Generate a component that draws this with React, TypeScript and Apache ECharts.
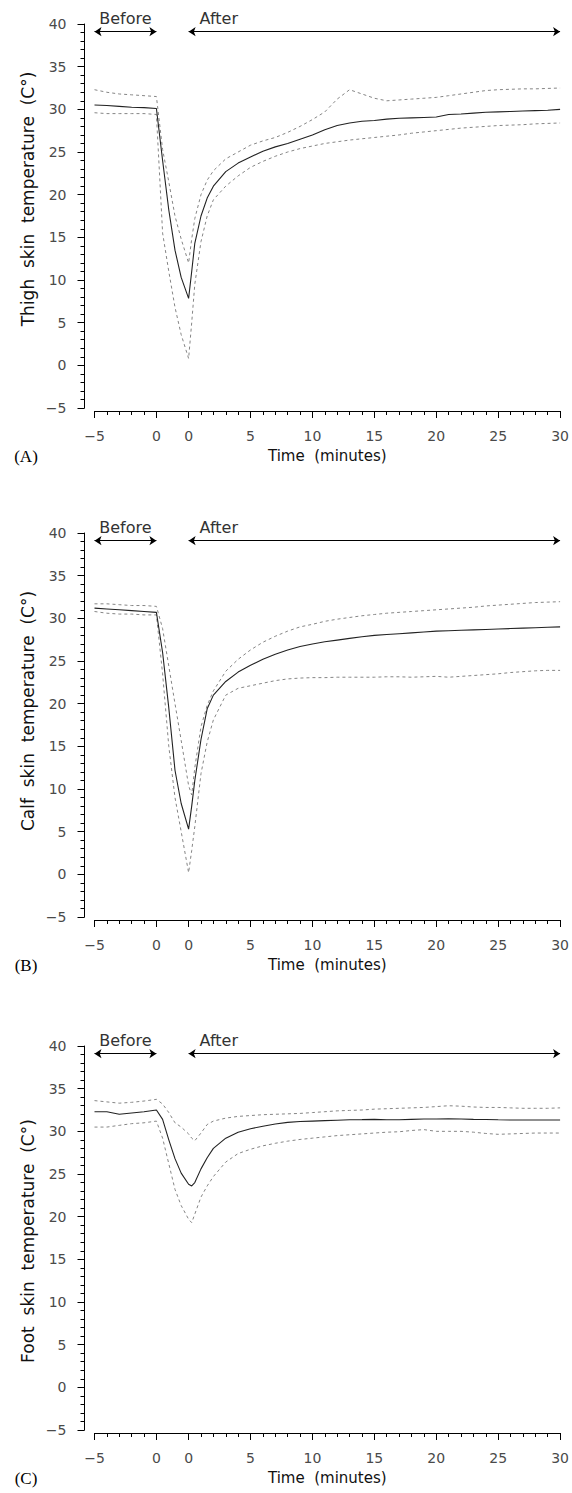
import React, { useEffect, useRef } from "react";
import * as echarts from "echarts";

// Axis width (in minutes) of the cooling interval drawn between the two zero marks
const GAP = 2.6;

// Sampling times
const BEFORE_MIN = [-5, -4, -3, -2, -1, 0];
const COOLING_POS = [0.5, 1.0, 1.5, 2.0];
const AFTER_MIN = [0, 0.25, 0.5, 1, 1.5, 2, 3, 4, 5, 6, 7, 8, 9, 10, 11, 12, 13, 14, 15, 16, 17, 18, 19, 20, 21, 22, 23, 24, 25, 26, 27, 28, 29, 30];

// Tick marks
const BEFORE_TICKS = [-5, 0];
const AFTER_TICKS = [0, 5, 10, 15, 20, 25, 30];
const BEFORE_MINOR = [-4, -3, -2, -1];
const AFTER_MINOR = [1, 2, 3, 4, 6, 7, 8, 9, 11, 12, 13, 14, 16, 17, 18, 19, 21, 22, 23, 24, 26, 27, 28, 29];
const Y_MIN = -5;
const Y_MAX = 40;
const Y_STEP = 5;
const ARROW_LEVEL = 39.1;

// Thigh (A)
const THIGH_MEAN = [
  30.5, 30.45, 30.35, 30.25, 30.2, 30.1,
  24.0, 18.2, 13.5, 10.3,
  7.85, 11.0, 14.3, 17.5, 19.6, 21.0, 22.7, 23.7, 24.4, 25.1, 25.6, 26.0, 26.5, 27.0, 27.6, 28.1, 28.4, 28.6,
  28.7, 28.85, 28.95, 29.0, 29.05, 29.1, 29.4, 29.45, 29.55, 29.65, 29.7, 29.75, 29.8, 29.85, 29.9, 30.0,
];
const THIGH_UPPER = [
  32.3, 32.0, 31.8, 31.7, 31.6, 31.5,
  25.3, 21.5, 17.5, 14.8,
  12.0, 14.8, 17.2, 20.0, 21.7, 22.8, 24.2, 25.0, 25.8, 26.3, 26.7, 27.3, 28.0, 28.8, 29.7, 31.2, 32.3, 31.8,
  31.3, 31.0, 31.1, 31.2, 31.3, 31.4, 31.6, 31.8, 32.0, 32.2, 32.3, 32.35, 32.4, 32.4, 32.45, 32.5,
];
const THIGH_LOWER = [
  29.6, 29.5, 29.5, 29.5, 29.5, 29.4,
  15.5, 11.0, 6.8, 3.6,
  0.8, 5.0, 9.5, 14.5, 17.5, 19.4, 21.0, 22.2, 23.2, 23.9, 24.5, 25.0, 25.4, 25.7, 26.0, 26.2, 26.4, 26.55,
  26.7, 26.85, 27.0, 27.2, 27.35, 27.5, 27.65, 27.8, 27.9, 28.0, 28.1, 28.15, 28.2, 28.3, 28.35, 28.4,
];

// Calf (B)
const CALF_MEAN = [
  31.2, 31.1, 31.0, 30.9, 30.8, 30.7,
  26.0, 19.5, 12.2, 8.3,
  5.3, 8.0, 11.0, 15.8, 19.4, 21.0, 22.6, 23.7, 24.5, 25.2, 25.8, 26.3, 26.7, 27.0, 27.25, 27.45, 27.65, 27.85,
  28.0, 28.1, 28.2, 28.3, 28.4, 28.5, 28.55, 28.6, 28.65, 28.7, 28.75, 28.8, 28.85, 28.9, 28.95, 29.0,
];
const CALF_UPPER = [
  31.7, 31.7, 31.6, 31.5, 31.5, 31.4,
  28.8, 24.4, 20.0, 15.7,
  10.4, 9.3, 12.5, 17.3, 19.8, 21.5, 23.8, 25.2, 26.3, 27.2, 27.9, 28.5, 29.0, 29.3, 29.65, 29.9, 30.1, 30.3,
  30.45, 30.6, 30.7, 30.8, 30.9, 31.0, 31.1, 31.2, 31.3, 31.45, 31.55, 31.65, 31.75, 31.85, 31.9, 31.95,
];
const CALF_LOWER = [
  30.8, 30.6, 30.5, 30.5, 30.4, 30.4,
  23.5, 15.0, 9.0, 5.0,
  0.2, 2.8, 5.6, 11.8, 15.5, 18.1, 21.0, 21.8, 22.1, 22.4, 22.7, 22.9, 23.0, 23.05, 23.05, 23.1, 23.1, 23.1,
  23.1, 23.15, 23.15, 23.1, 23.15, 23.2, 23.1, 23.2, 23.3, 23.4, 23.5, 23.65, 23.75, 23.85, 23.9, 23.9,
];

// Foot (C)
const FOOT_MEAN = [
  32.3, 32.3, 32.0, 32.15, 32.3, 32.5,
  31.4, 29.0, 26.8, 25.1,
  23.8, 23.6, 24.0, 25.6, 26.9, 28.0, 29.2, 29.9, 30.3, 30.6, 30.85, 31.05, 31.15, 31.2, 31.25, 31.3, 31.35, 31.37,
  31.4, 31.35, 31.35, 31.4, 31.45, 31.45, 31.48, 31.45, 31.4, 31.38, 31.35, 31.33, 31.32, 31.32, 31.32, 31.32,
];
const FOOT_UPPER = [
  33.6, 33.45, 33.3, 33.4, 33.55, 33.75,
  33.2, 32.2, 31.0, 30.5,
  29.7, 29.2, 28.9, 29.8, 30.8, 31.2, 31.55, 31.75, 31.85, 31.95, 32.0, 32.05, 32.1, 32.2, 32.3, 32.4, 32.45, 32.5,
  32.6, 32.65, 32.7, 32.75, 32.8, 32.9, 33.0, 32.95, 32.85, 32.8, 32.8, 32.75, 32.7, 32.7, 32.7, 32.75,
];
const FOOT_LOWER = [
  30.5, 30.5, 30.7, 30.9, 31.0, 31.2,
  29.2, 26.2, 23.2, 21.3,
  19.7, 19.3, 20.3, 22.3, 23.6, 24.7, 26.4, 27.4, 27.9, 28.3, 28.6, 28.85, 29.05, 29.2, 29.35, 29.5, 29.6, 29.7,
  29.8, 29.9, 29.95, 30.1, 30.2, 30.0, 30.0, 30.0, 29.9, 29.75, 29.65, 29.7, 29.75, 29.8, 29.8, 29.8,
];

const PANEL_LETTERS = ["(A)", "(B)", "(C)"];
const PANEL_Y_NAMES = [
  "Thigh  skin  temperature  (C°)",
  "Calf  skin  temperature  (C°)",
  "Foot  skin  temperature  (C°)",
];
const PANEL_SERIES = [
  [THIGH_MEAN, THIGH_UPPER, THIGH_LOWER],
  [CALF_MEAN, CALF_UPPER, CALF_LOWER],
  [FOOT_MEAN, FOOT_UPPER, FOOT_LOWER],
];

// Layout
const WIDTH = 572;
const HEIGHT = 1493;
const GRID_TOPS = [24, 533, 1046];
const GRID_LEFT = 94.5;
const GRID_WIDTH = 467.5;
const GRID_HEIGHT = 384;
const Y_NAME_OFFSETS = [175, 178, 195];
const SANS = "DejaVu Sans";

const xPositions = [
  ...BEFORE_MIN,
  ...COOLING_POS,
  ...AFTER_MIN.map((t) => t + GAP),
];
const majorX = [...BEFORE_TICKS, ...AFTER_TICKS.map((t) => t + GAP)];
const minorX = [...BEFORE_MINOR, ...AFTER_MINOR.map((t) => t + GAP)];

const signed = (v: number) => (v < 0 ? "\u2212" + Math.abs(v) : String(v));

const xLabel = (v: number) => {
  const i = majorX.findIndex((p) => Math.abs(p - v) < 1e-6);
  if (i < 0) return "";
  const t = i < BEFORE_TICKS.length ? BEFORE_TICKS[i] : AFTER_TICKS[i - BEFORE_TICKS.length];
  return signed(t);
};

const toPairs = (values: number[]) => values.map((v, i) => [xPositions[i], v]);

export default function App() {
  const ref = useRef<HTMLDivElement>(null);

  useEffect(() => {
    if (!ref.current) return;
    const chart = echarts.init(ref.current, null, { renderer: "svg" });

    const grids: any[] = [];
    const xAxes: any[] = [];
    const yAxes: any[] = [];
    const series: any[] = [];
    const graphics: any[] = [];

    PANEL_SERIES.forEach(([mean, upper, lower], i) => {
      const top = GRID_TOPS[i];
      grids.push({ left: GRID_LEFT, top, width: GRID_WIDTH, height: GRID_HEIGHT });

      xAxes.push({
        type: "value",
        gridIndex: i,
        min: -5,
        max: 30 + GAP,
        position: "bottom",
        offset: 3,
        axisLine: { show: true, onZero: false, lineStyle: { color: "#000", width: 1 } },
        axisTick: { show: true, customValues: majorX, length: 7, lineStyle: { color: "#000", width: 1 } },
        axisLabel: {
          show: true,
          customValues: majorX,
          formatter: xLabel,
          margin: 18,
          fontSize: 14,
          color: "#4a4a4a",
          fontFamily: SANS,
        },
        splitLine: { show: false },
        name: "Time  (minutes)",
        nameLocation: "middle",
        nameGap: 37,
        nameTextStyle: { fontSize: 15, color: "#111", fontFamily: SANS },
      });
      xAxes.push({
        type: "value",
        gridIndex: i,
        min: -5,
        max: 30 + GAP,
        position: "bottom",
        offset: 3,
        axisLine: { show: false, onZero: false },
        axisTick: { show: true, customValues: minorX, length: 4, lineStyle: { color: "#000", width: 1 } },
        axisLabel: { show: false },
        splitLine: { show: false },
      });

      yAxes.push({
        type: "value",
        gridIndex: i,
        min: Y_MIN,
        max: Y_MAX,
        interval: Y_STEP,
        position: "left",
        offset: 10,
        axisLine: { show: true, onZero: false, lineStyle: { color: "#000", width: 1 } },
        axisTick: { show: true, length: 7, lineStyle: { color: "#000", width: 1 } },
        minorTick: { show: true, splitNumber: 5, length: 4, lineStyle: { color: "#000", width: 1 } },
        axisLabel: { margin: 18, fontSize: 14, color: "#4a4a4a", fontFamily: SANS, formatter: signed },
        splitLine: { show: false },
        minorSplitLine: { show: false },
      });

      const xIdx = i * 2;
      const dashed = { type: [3, 3], width: 1, color: "#858585" };
      series.push({
        type: "line",
        xAxisIndex: xIdx,
        yAxisIndex: i,
        data: toPairs(lower),
        showSymbol: false,
        lineStyle: dashed,
        silent: true,
      });
      series.push({
        type: "line",
        xAxisIndex: xIdx,
        yAxisIndex: i,
        data: toPairs(upper),
        showSymbol: false,
        lineStyle: dashed,
        silent: true,
      });
      series.push({
        type: "line",
        xAxisIndex: xIdx,
        yAxisIndex: i,
        data: toPairs(mean),
        showSymbol: false,
        lineStyle: { type: "solid", width: 1.1, color: "#222" },
        silent: true,
        markLine: {
          silent: true,
          symbol: ["arrow", "arrow"],
          symbolSize: 7,
          lineStyle: { color: "#000", width: 1, type: "solid" },
          label: { show: true, fontSize: 16, color: "#333", fontFamily: SANS },
          emphasis: { disabled: true },
          data: [
            [
              {
                coord: [BEFORE_TICKS[0], ARROW_LEVEL],
                label: { formatter: "Before", position: "insideMiddleTop", distance: 5 },
              },
              { coord: [BEFORE_TICKS[1], ARROW_LEVEL] },
            ],
            [
              {
                coord: [AFTER_TICKS[0] + GAP, ARROW_LEVEL],
                label: { formatter: "After", position: "insideStartTop", distance: [11, 5] },
              },
              { coord: [AFTER_TICKS[AFTER_TICKS.length - 1] + GAP, ARROW_LEVEL] },
            ],
          ],
        },
      });

      const axisLineY = top + GRID_HEIGHT + 3;
      graphics.push({
        type: "text",
        x: 26,
        y: axisLineY + 45,
        style: {
          text: PANEL_LETTERS[i],
          font: '17px "Liberation Serif", "Times New Roman", serif',
          fill: "#000",
          align: "center",
          verticalAlign: "middle",
        },
      });
      graphics.push({
        type: "text",
        x: 28,
        y: top + Y_NAME_OFFSETS[i],
        rotation: Math.PI / 2,
        style: {
          text: PANEL_Y_NAMES[i],
          font: `17px "${SANS}", sans-serif`,
          fill: "#111",
          align: "center",
          verticalAlign: "middle",
        },
      });
    });

    chart.setOption({
      animation: false,
      backgroundColor: "#fff",
      textStyle: { fontFamily: SANS },
      grid: grids,
      xAxis: xAxes,
      yAxis: yAxes,
      series,
      graphic: graphics,
    });

    return () => chart.dispose();
  }, []);

  return (
    <div
      ref={ref}
      style={{ position: "absolute", left: 0, top: 0, width: WIDTH, height: HEIGHT }}
    />
  );
}
